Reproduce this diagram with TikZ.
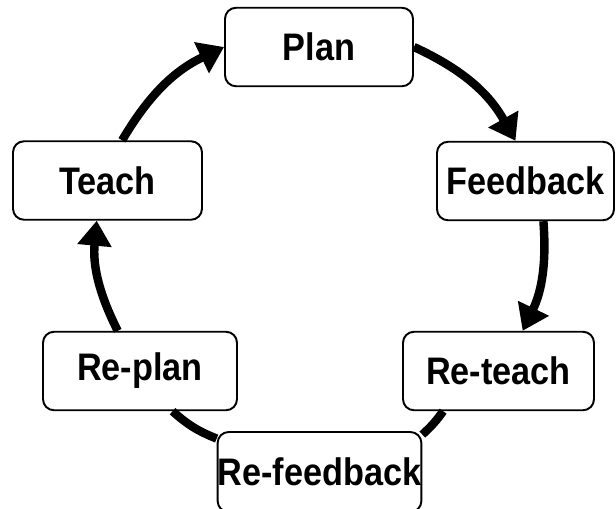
\documentclass[tikz,border=0pt]{standalone}
\usepackage{fontspec}
\setmainfont{Liberation Sans}
\usepackage{graphicx}
\usetikzlibrary{arrows.meta}
\newcommand{\tall}[1]{\scalebox{1}[1.12]{#1}}
\begin{document}
\begin{tikzpicture}[x=0.02cm,y=-0.02cm,
   box/.style={draw,line width=1.1pt,rounded corners=0.22cm,fill=white,
     minimum height=1.57cm,inner sep=0pt,
     font=\bfseries\fontsize{19.5}{23}\selectfont},
   flow/.style={line width=4.8pt,-{Triangle[length=0.5cm,width=0.66cm]}},
   link/.style={line width=4.8pt}]
   \useasboundingbox (0,0) rectangle (616,508);

   % 箱
   \node[box,minimum width=3.76cm] (plan) at (319,47) {\tall{Plan}};
   \node[box,minimum width=3.54cm] (feedback) at (525.5,181) {\tall{Feedback}};
   \node[box,minimum width=3.82cm] (reteach) at (498.5,371) {\tall{Re-teach}};
   \node[box,minimum width=3.94cm,minimum height=1.6cm] (refeedback) at (319.5,472) {\tall{Re-feedback}};
   \node[box,minimum width=3.88cm] (replan) at (140,371) {\tall{Re-plan}};
   \node[box,minimum width=3.78cm] (teach) at (107.5,180.5) {\tall{Teach}};

   % 矢印
   \draw[flow] (plan.east) to[bend left=18] (feedback.104);
   \draw[flow] (feedback.-66) to[bend left=15] (reteach.59);
   \draw[link] (reteach.216) to[bend left=6] (refeedback.20);
   \draw[link] (refeedback.162) to[bend left=10] (replan.-51);
   \draw[flow] (replan.119) to[bend left=16] (teach.255);
   \draw[flow] (teach.70) to[bend left=17] (plan.west);

\end{tikzpicture}
\end{document}
